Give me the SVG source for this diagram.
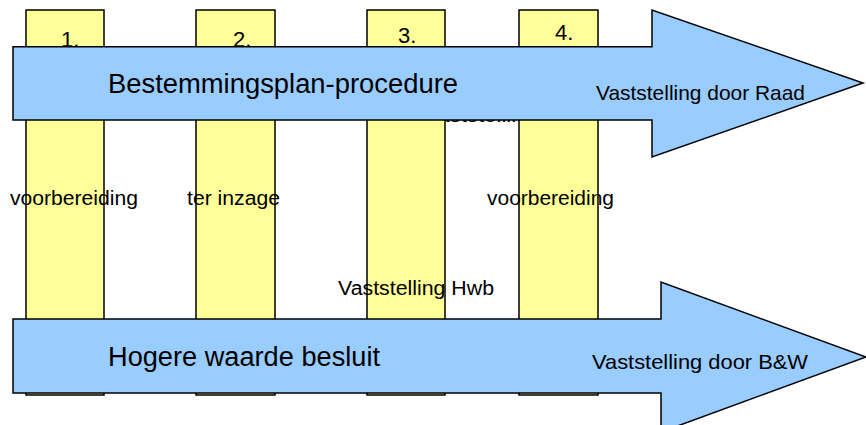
<svg xmlns="http://www.w3.org/2000/svg" width="866" height="425" viewBox="0 0 866 425">
<style>
.col{fill:#FFFF99;stroke:#000;stroke-width:1.5}
.arr{fill:#99CCFF;stroke:#000;stroke-width:1.5;stroke-linejoin:miter}
text{font-family:"Liberation Sans",Arial,sans-serif;fill:#000}
.num{font-size:22px}
.big{font-size:27px}
.mid{font-size:21px}
.lbl{font-size:20px}
</style>
<rect width="866" height="425" fill="#fff"/>
<g id="hidden-label"><text class="lbl" x="424" y="122" textLength="112" lengthAdjust="spacingAndGlyphs">Vaststelling</text></g>
<g id="phase-1"><rect class="col" x="26" y="10" width="78" height="385"/><text class="num" x="61" y="47">1.</text></g>
<g id="phase-2"><rect class="col" x="196" y="10" width="79" height="385"/><text class="num" x="233" y="47">2.</text></g>
<g id="phase-3"><rect class="col" x="367" y="10" width="78" height="385"/><text class="num" x="398" y="43">3.</text></g>
<g id="phase-4"><rect class="col" x="519" y="10" width="79" height="385"/><text class="num" x="555" y="40">4.</text></g>
<g id="connectors">
<g id="arrow-bestemmingsplan"><path class="arr" d="M13,46.7 L652,46.7 L652,10 L863,83 L652,157 L652,120 L13,120 Z"/>
<text class="big" x="108" y="93" textLength="350" lengthAdjust="spacingAndGlyphs">Bestemmingsplan-procedure</text>
<text class="mid" x="596" y="100" textLength="209" lengthAdjust="spacingAndGlyphs">Vaststelling door Raad</text></g>
<g id="arrow-hogere-waarde"><path class="arr" d="M13,319 L661,319 L661,282 L866,357 L661,432 L661,393 L13,393 Z"/>
<text class="big" x="108" y="366" textLength="272" lengthAdjust="spacingAndGlyphs">Hogere waarde besluit</text>
<text class="mid" x="592" y="369" textLength="216" lengthAdjust="spacingAndGlyphs">Vaststelling door B&amp;W</text></g>
</g>
<g id="labels">
<text class="lbl" x="10" y="205" textLength="128" lengthAdjust="spacingAndGlyphs">voorbereiding</text>
<text class="lbl" x="187" y="205" textLength="93" lengthAdjust="spacingAndGlyphs">ter inzage</text>
<text class="lbl" x="487" y="205" textLength="127" lengthAdjust="spacingAndGlyphs">voorbereiding</text>
<text class="lbl" x="338" y="295" textLength="156" lengthAdjust="spacingAndGlyphs">Vaststelling Hwb</text>
</g>
</svg>
